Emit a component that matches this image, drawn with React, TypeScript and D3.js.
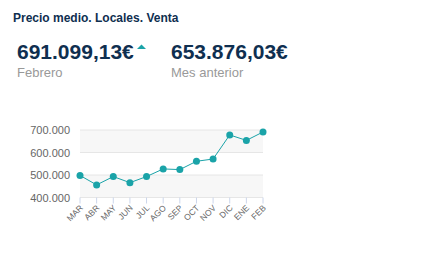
import React from "react";
import * as d3 from "d3";

const months = ["MAR", "ABR", "MAY", "JUN", "JUL", "AGO", "SEP", "OCT", "NOV", "DIC", "ENE", "FEB"];
const values = [498000, 456000, 493000, 466000, 493000, 527000, 524000, 561000, 571000, 678000, 653876, 691099];
const yTicks = [400000, 500000, 600000, 700000];

const title = "Precio medio. Locales. Venta";
const currentValue = "691.099,13€";
const currentLabel = "Febrero";
const previousValue = "653.876,03€";
const previousLabel = "Mes anterior";

const teal = "#1aa3a8";
const navy = "#0f2f50";
const font = "'Liberation Sans', Arial, Helvetica, sans-serif";

export default function App() {
  const left = 80, right = 263, top = 130, bottom = 197.5;
  const x = d3.scalePoint<string>().domain(months).range([left, right]);
  const y = d3.scaleLinear().domain([400000, 700000]).range([bottom, top]);
  const fmt = (v: number) => d3.format(",")(v).replace(/,/g, ".");
  const line = d3.line<number>().x((_, i) => x(months[i])!).y((v) => y(v));

  return (
    <svg width={437} height={264} style={{ position: "absolute", left: 0, top: 0, fontFamily: font }}>
      <rect width={437} height={264} fill="#fff" />
      <text x={13} y={22} fontSize={12} fontWeight="bold" fill={navy}>{title}</text>
      <text x={17} y={59} fontSize={21} fontWeight="bold" fill={navy}>{currentValue}</text>
      <path d="M137,49 L141.5,44.5 L146,49 Z" fill={teal} />
      <text x={17} y={77} fontSize={13} fill="#999">{currentLabel}</text>
      <text x={171} y={59} fontSize={21} fontWeight="bold" fill={navy}>{previousValue}</text>
      <text x={171} y={77} fontSize={13} fill="#999">{previousLabel}</text>

      <rect x={left} width={right - left} y={y(500000)} height={y(400000) - y(500000)} fill="#f7f7f7" />
      <rect x={left} width={right - left} y={y(700000)} height={y(600000) - y(700000)} fill="#f7f7f7" />
      {yTicks.map((t) => (
        <g key={t}>
          <line x1={left} x2={right} y1={y(t)} y2={y(t)} stroke="#e6e6e6" strokeWidth={1} />
          <text x={70} y={y(t) + 4} fontSize={11} fill="#666" textAnchor="end">{fmt(t)}</text>
        </g>
      ))}
      {months.map((m) => (
        <g key={m}>
          <line x1={x(m)} x2={x(m)} y1={bottom} y2={bottom + 6} stroke="#ccd6eb" strokeWidth={1} />
          <text
            transform={`translate(${x(m)! + 3.5},${bottom + 11}) rotate(-45)`}
            fontSize={8.5}
            fill="#666"
            textAnchor="end"
          >
            {m}
          </text>
        </g>
      ))}
      <path d={line(values)!} fill="none" stroke={teal} strokeWidth={1} />
      {values.map((v, i) => (
        <circle key={i} cx={x(months[i])} cy={y(v)} r={3.5} fill={teal} />
      ))}
    </svg>
  );
}
